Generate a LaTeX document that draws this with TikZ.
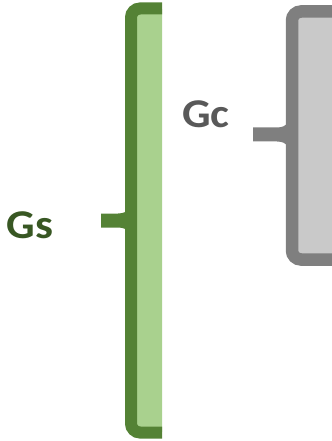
\documentclass[tikz,border=0pt]{standalone}
\usepackage{fontspec}
\setmainfont{Carlito}[BoldFont={Carlito Bold}]
\definecolor{dgreen}{HTML}{548235}
\definecolor{lgreen}{HTML}{A9D18E}
\definecolor{tgreen}{HTML}{385723}
\definecolor{dgray}{HTML}{7F7F7F}
\definecolor{lgray}{HTML}{C9C9C9}
\definecolor{tgray}{HTML}{595959}
\tikzset{
  bracegreen/.style={draw=dgreen, line width=12bp, rounded corners=9bp},
  bracegray/.style={draw=dgray, line width=12.5bp, rounded corners=9bp},
  lab/.style={font=\bfseries\fontsize{41}{43}\selectfont, inner sep=0pt, xscale=1.1, transform shape}
}
\begin{document}
\begin{tikzpicture}[x=1bp,y=-1bp]
\useasboundingbox (0,0) rectangle (331,441);
% green brace
\begin{scope}
  \clip (0,0) rectangle (162,441);
  \fill[lgreen] (131,9) rectangle (180,432);
  \draw[bracegreen] (190,8.5) -- (131,8.5) -- (131,432.5) -- (190,432.5);
\end{scope}
\fill[dgreen] (101,213.5) -- (118,213.5) .. controls (124,213.3) and (126,212) .. (128,209)
  -- (128,232) .. controls (126,229) and (124,227.7) .. (118,227.5) -- (101,227.5) -- cycle;
% gray brace
\fill[lgray] (292,11) rectangle (340,259);
\draw[bracegray] (350,11.5) -- (292,11.5) -- (292,259.5) -- (350,259.5);
\fill[dgray] (253,127.5) -- (277,127.5) .. controls (283,127.3) and (285,126) .. (288,122.5)
  -- (288,146.5) .. controls (285,143) and (283,141.7) .. (277,141.5) -- (253,141.5) -- cycle;
% labels
\node[lab, text=tgreen] (gs) at (30,225) {Gs};
\node[lab, text=tgray] (gc) at (206,114.5) {Gc};
\end{tikzpicture}
\end{document}
